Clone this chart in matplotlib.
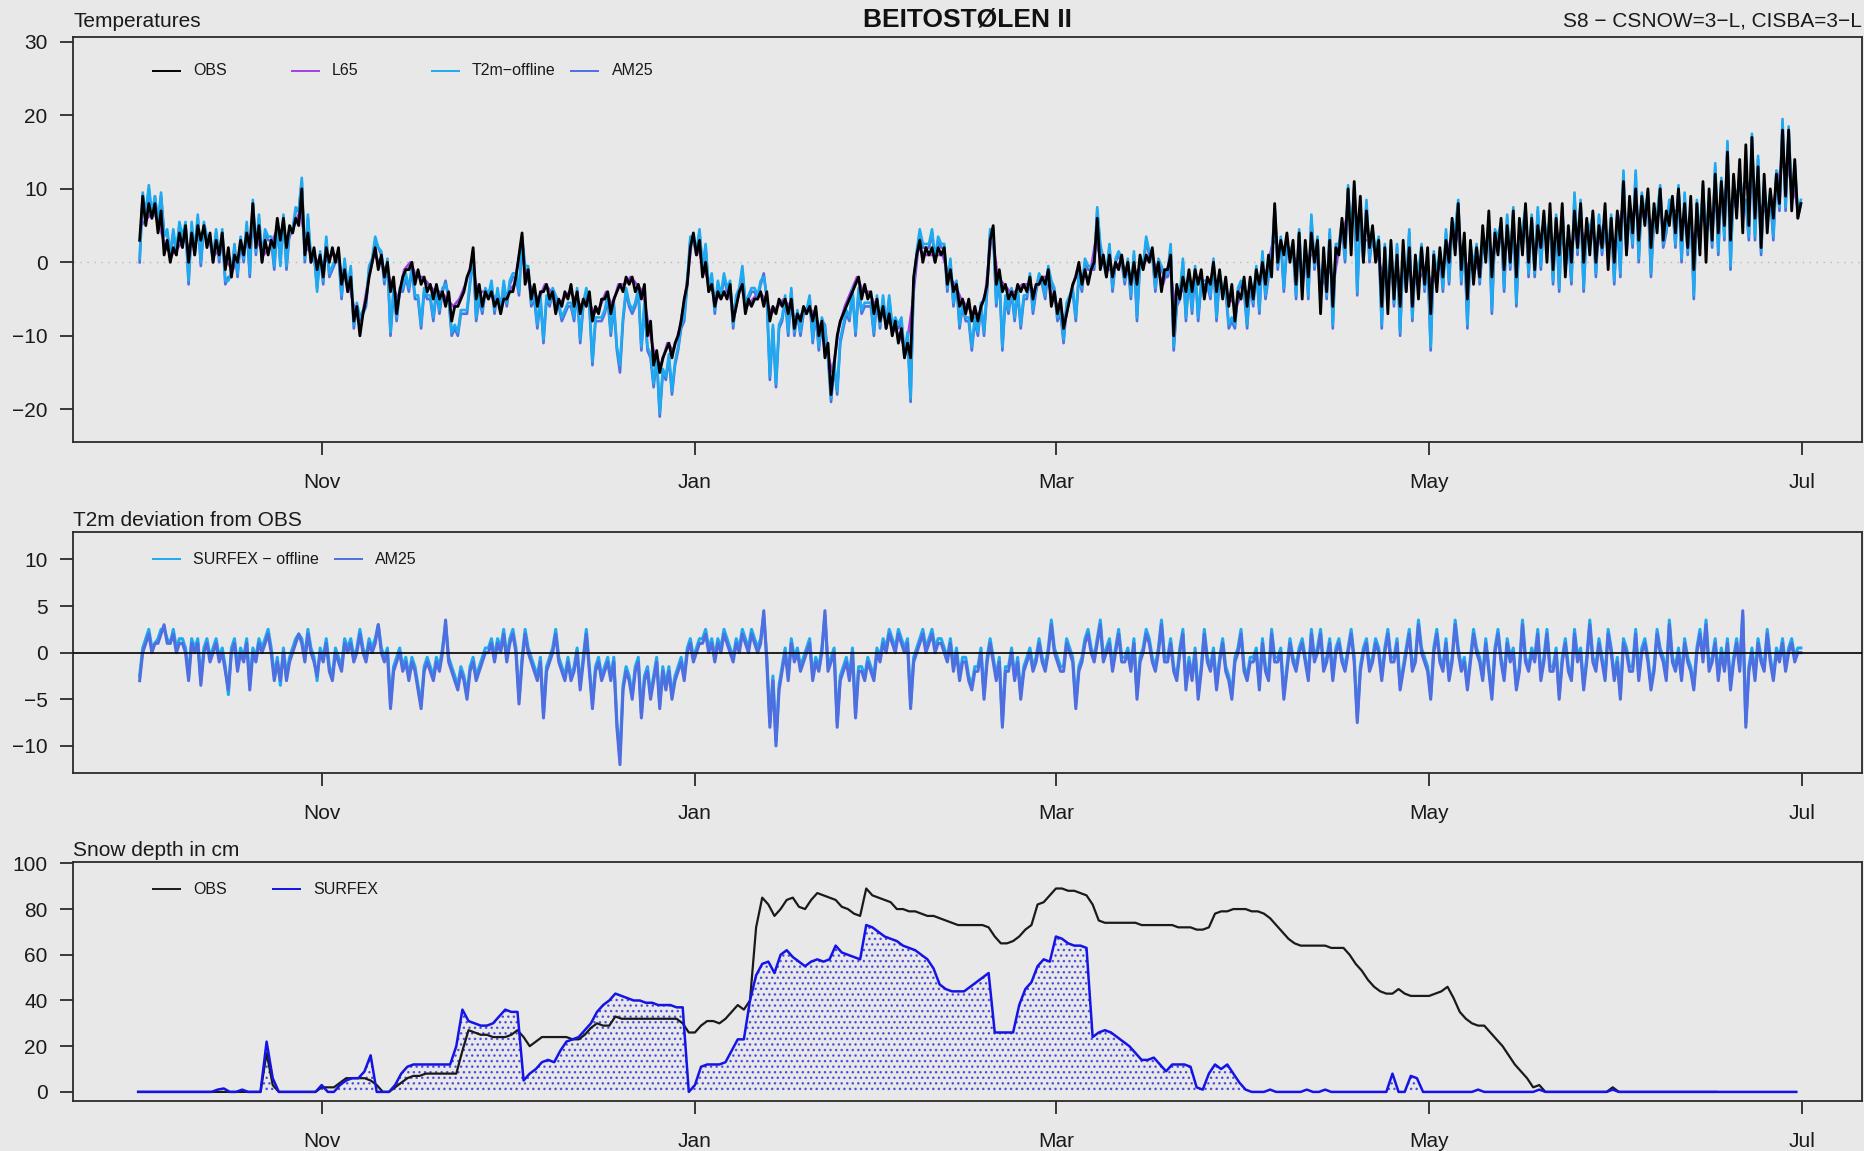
import numpy as np
import pandas as pd
import matplotlib
matplotlib.use('Agg')
import matplotlib.pyplot as plt

plt.rcParams['font.family'] = ['Liberation Sans', 'DejaVu Sans']
plt.rcParams['hatch.linewidth'] = 1.0
plt.rcParams['hatch.color'] = '#3434e0'

# Beitostølen II, season 2016/17. 2 m temperature, two values a day (night, day), from 2 Oct
obs_t2m = [
    3, 9, 5, 8, 6, 8, 4, 7, 1, 3, 0, 2, 1, 4,
    2, 5, 0, 4, 1, 5, 3, 5, 2, 4, 0, 3, 1, 4,
    -1, 2, -2, 1, 0, 3, 1, 4, 2, 8, 2, 5, 0, 3,
    1, 3, 2, 6, 3, 6, 2, 5, 4, 6, 5, 10, 1, 4,
    0, 2, -1, 1, -2, 2, 0, 2, 0, 2, -3, -1, -4, -2,
    -8, -6, -10, -7, -5, -2, 0, 2, -1, 1, -2, 0, -4, -2,
    -7, -4, -2, -1, -1, 0, -3, -1, -3, -2, -4, -3, -5, -3,
    -5, -4, -6, -4, -8, -6, -6, -5, -4, -2, -1, 2, -5, -3,
    -6, -4, -5, -4, -6, -5, -7, -5, -5, -4, -4, -2, 1, 4,
    -3, -1, -5, -3, -6, -4, -4, -3, -5, -4, -7, -5, -6, -4,
    -5, -3, -6, -4, -7, -5, -6, -4, -8, -6, -7, -5, -5, -4,
    -7, -5, -4, -3, -4, -2, -3, -2, -4, -3, -5, -3, -10, -8,
    -14, -12, -15, -13, -12, -11, -13, -11, -10, -8, -5, -3, 2, 4,
    1, 3, -2, 0, -4, -3, -6, -4, -5, -4, -5, -3, -8, -6,
    -4, -3, -7, -5, -6, -5, -5, -4, -6, -4, -8, -6, -7, -5,
    -6, -5, -7, -5, -9, -7, -8, -6, -7, -6, -8, -6, -10, -8,
    -13, -11, -18, -14, -10, -8, -7, -6, -5, -4, -3, -2, -5, -3,
    -5, -4, -7, -5, -8, -6, -9, -7, -10, -8, -11, -9, -13, -11,
    -13, -2, 1, 3, 0, 2, 1, 2, 0, 2, 1, 2, -3, -1,
    -4, -3, -6, -5, -7, -5, -8, -6, -8, -6, -5, -3, 3, 5,
    -3, -1, -4, -3, -5, -4, -5, -3, -4, -3, -4, -2, -5, -3,
    -3, -2, -3, -1, -6, -4, -7, -5, -9, -7, -5, -3, -2, 0,
    -3, -1, -3, -1, 0, 6, -1, 1, -2, 1, -2, 0, -1, 1,
    -2, 0, -3, 0, -3, 1, -1, 1, 0, 2, -2, 0, -4, -1,
    -1, 1, -10, -3, -5, -2, -4, -1, -4, -1, -3, -1, -5, -2,
    -3, 0, -4, -1, -5, -2, -6, -3, -8, -4, -5, -2, -6, -2,
    -5, -1, -3, 0, -3, 1, -2, 8, 0, 3, 1, 4, 0, 3,
    -3, 4, -5, 3, -2, 4, 0, 3, -7, 2, -4, 3, -6, 2,
    1, 6, 2, 10, 1, 11, 3, 9, 0, 7, 2, 5, 0, 3,
    -6, 2, -7, 3, -5, 1, -6, 3, -4, 2, -6, 1, -5, 2,
    -3, 2, -7, 1, -4, 2, -2, 3, 0, 6, 1, 8, -1, 4,
    -5, 3, -3, 2, -2, 5, 0, 7, -2, 4, 1, 6, -1, 5,
    0, 7, -2, 6, 1, 8, 0, 6, -1, 5, 2, 7, 0, 8,
    -1, 6, 1, 8, -2, 5, 0, 7, 2, 8, 0, 6, 1, 7,
    0, 5, 2, 8, -1, 6, 0, 7, 3, 11, 1, 9, 4, 10,
    3, 9, 5, 10, 2, 8, 4, 10, 3, 7, 5, 9, 4, 10,
    3, 8, 2, 9, -1, 8, 1, 11, 0, 10, 3, 12, 4, 11,
    5, 15, 3, 12, 6, 14, 4, 16, 5, 17, 6, 13, 2, 12,
    4, 10, 6, 12, 8, 18, 9, 18, 7, 14, 6, 8,
]

# model minus OBS, same 12-hourly times
dev_offline = [
    -2.5, 0.5, 1.5, 2.5, 0.5, 1, 1.5, 2.5, 2.5, 1.5, 1, 2.5, 0.5, 1.5,
    1.5, 0.5, -2.5, 1.5, 0.5, 1.5, -3, 0.5, 1.5, -0.5, 0.5, 1.5, -0.5, 0.5,
    -1.5, -4.5, 0.5, 1.5, -1.5, 0.5, -0.5, 1.5, -3.5, 0.5, -0.5, 1.5, 0.5, 1.5,
    2.5, 0.5, -2.5, -0.5, -3.5, 0.5, -2.5, -0.5, 0.5, 1.5, 2, 1.5, -0.5, 2.5,
    0.5, -0.5, -3, 0.5, -0.5, 1.5, -1.5, -2.5, 0.5, -0.5, -1.5, 1.5, 0.5, 1.5,
    -0.5, 0.5, 2.5, 0.5, -0.5, 1.5, 0.5, 1.5, 3, 0.5, -0.5, 0.5, -5.5, -1.5,
    -0.5, 0.5, -1.5, -0.5, -2.5, -0.5, -1.5, -3.5, -5.5, -1.5, -0.5, -1.5, -2.5, -0.5,
    -1.5, 0.5, 3, -0.5, -1.5, -2.5, -3.5, -1.5, -2.5, -4.5, -1.5, -0.5, -2.5, -1.5,
    -0.5, 0.5, 0.5, 1.5, -0.5, 1.5, 0.5, 2.5, -0.5, 1.5, 2.5, 0.5, -5, -0.5,
    2.5, 0.5, -0.5, -1.5, -2.5, -0.5, -6.5, -1.5, -0.5, 0.5, 2.5, -0.5, -1.5, -2.5,
    -0.5, -2.5, -1.5, 0.5, -3.5, -0.5, 2.5, -1.5, -5.5, -1.5, -0.5, -2.5, -1.5, -0.5,
    -2.5, -0.5, -7.5, -11, -3.5, -1.5, -2.5, -4.5, -1.5, -0.5, -6.5, -2.5, -1.5, -4.5,
    -2.5, -0.5, -5.5, -1.5, -3.5, -1.5, -4.5, -2.5, -1.5, -0.5, -2.5, 0.5, 1.5, -0.5,
    0.5, 1.5, 1.5, 2.5, 0.5, 1.5, -0.5, 1.5, 0.5, 2.5, 1.5, 0.5, -0.5, 1.5,
    0.5, 2.5, 1.5, 0.5, 2.5, 1.5, 0.5, 1.5, 4, -0.5, -7.5, -2.5, -9.5, -3.5,
    -1.5, 0.5, -2.5, 1.5, -0.5, 0.5, -1.5, -0.5, 0.5, 1.5, -2.5, -0.5, -1.5, 0.5,
    4, -1.5, -0.5, 0.5, -7.5, -2.5, -1.5, -0.5, -2.5, 0.5, -6.5, -1.5, -1.5, -2.5,
    -0.5, -1.5, -2.5, 0.5, -0.5, 1.5, 0.5, 2.5, 1.5, 0.5, 2.5, 1.5, 0.5, 1.5,
    -5.5, -0.5, 0.5, 1.5, 2.5, 0.5, 1.5, 2.5, 0.5, 1.5, 1.5, 0.5, -0.5, 1.5,
    -1.5, 0.5, -2.5, -0.5, -0.5, -2.5, -3.5, -1.5, -1.5, 0.5, -4.5, -0.5, 1.5, -0.5,
    -2.5, -0.5, -7.5, -1.5, -1.5, 0.5, -2.5, -0.5, -4.5, -1.5, -0.5, 0.5, -1.5, -0.5,
    1.5, -0.5, -1.5, 0.5, 3.5, 0.5, -0.5, -1.5, -1.5, 1.5, 0.5, -0.5, -5.5, -1.5,
    -0.5, 1.5, 2.5, 0.5, -0.5, 1.5, 3.5, -0.5, 0.5, 1.5, -1.5, 0.5, 2.5, -0.5,
    -0.5, 0.5, -1.5, 1.5, -4.5, -0.5, 0.5, 2.5, 1.5, -0.5, -1.5, 0.5, 3.5, -0.5,
    -0.5, 1.5, -1.5, -2.5, 0.5, 2.5, -3.5, -0.5, -2.5, 0.5, -4.5, -1.5, 2.5, -0.5,
    -1.5, 0.5, -3.5, -0.5, 1.5, -1.5, -2.5, -4.5, -0.5, 0.5, 2.5, -1.5, -2.5, -0.5,
    -0.5, 0.5, -3.5, 1.5, -1.5, -2.5, 2.5, -0.5, -0.5, 0.5, -4.5, -1.5, 1.5, -0.5,
    -1.5, 0.5, 1.5, -0.5, -2.5, 2.5, -0.5, 0.5, 2.5, -1.5, -0.5, 1.5, -2.5, 0.5,
    1.5, -0.5, -1.5, 0.5, 2.5, -0.5, -7, -1.5, 0.5, 1.5, -1.5, -0.5, 1.5, 0.5,
    -2.5, 0.5, 2.5, -0.5, -0.5, 1.5, -3.5, -1.5, 0.5, 2.5, -1.5, -0.5, 3.5, 0.5,
    -0.5, -1.5, -4.5, 0.5, 2.5, -0.5, -1.5, 1.5, -2.5, -0.5, 3.5, 0.5, -1.5, -0.5,
    -3.5, -0.5, 2.5, 0.5, -0.5, -2.5, 1.5, -1.5, -4.5, 0.5, 2.5, -0.5, -2.5, 1.5,
    -0.5, 0.5, -3.5, -1.5, 3.5, -0.5, -1.5, 0.5, -0.5, 2.5, -2.5, -0.5, 2.5, -1.5,
    -1.5, 0.5, -4.5, -0.5, 1.5, -1.5, -2.5, 2.5, -0.5, 0.5, -3.5, -0.5, 3.5, -0.5,
    -1.5, 1.5, -0.5, -2.5, 2.5, 0.5, -2.5, -0.5, -4.5, 1.5, 0.5, -1.5, -1.5, 2.5,
    -2.5, 0.5, 1.5, -0.5, -3.5, -1.5, 2.5, 0.5, -0.5, -2.5, 3.5, -0.5, -1.5, 0.5,
    -2.5, 1.5, -0.5, -1.5, -3.5, 0.5, 2.5, -0.5, 3.5, -1.5, -0.5, 1.5, -2.5, 0.5,
    -1.5, 1.5, -3.5, -0.5, 1.5, -1.5, 4, -7.5, -1.5, 0.5, -2.5, 1.5, -0.5, -1.5,
    2.5, -0.5, -2.5, 0.5, -0.5, 1.5, -1.5, 0.5, 1.5, -0.5, 0.5, 0.5,
]

dev_am25 = [
    -3, 0, 1, 2, 0, 1, 1, 2, 3, 1, 1, 2, 0, 1,
    1, 0, -3, 1, 0, 1, -3.5, 0, 1, -1, 0, 1, -1, 0,
    -2, -4, 0, 1, -2, 0, -1, 1, -4, 0, -1, 1, 0, 1,
    2, 0, -3, -1, -3, 0, -3, -1, 0, 1, 2, 1, -1, 2,
    0, -1, -2.5, 0, -1, 1, -2, -3, 0, -1, -2, 1, 0, 1,
    -1, 0, 2, 0, -1, 1, 0, 1, 3, 0, -1, 0, -6, -2,
    -1, 0, -2, -1, -3, -1, -2, -4, -6, -2, -1, -2, -3, -1,
    -2, 0, 3.5, -1, -2, -3, -4, -2, -3, -5, -2, -1, -3, -2,
    -1, 0, 0, 1, -1, 1, 0, 2, -1, 1, 2, 0, -5.5, -1,
    2, 0, -1, -2, -3, -1, -7, -2, -1, 0, 2, -1, -2, -3,
    -1, -3, -2, 0, -4, -1, 2, -2, -6, -2, -1, -3, -2, -1,
    -3, -1, -8, -12, -4, -2, -3, -5, -2, -1, -7, -3, -2, -5,
    -3, -1, -6, -2, -4, -2, -5, -3, -2, -1, -3, 0, 1, -1,
    0, 1, 1, 2, 0, 1, -1, 1, 0, 2, 1, 0, -1, 1,
    0, 2, 1, 0, 2, 1, 0, 1, 4.5, -1, -8, -3, -10, -4,
    -2, 0, -3, 1, -1, 0, -2, -1, 0, 1, -3, -1, -2, 0,
    4.5, -2, -1, 0, -8, -3, -2, -1, -3, 0, -7, -2, -2, -3,
    -1, -2, -3, 0, -1, 1, 0, 2, 1, 0, 2, 1, 0, 1,
    -6, -1, 0, 1, 2, 0, 1, 2, 0, 1, 1, 0, -1, 1,
    -2, 0, -3, -1, -1, -3, -4, -2, -2, 0, -5, -1, 1, -1,
    -3, -1, -8, -2, -2, 0, -3, -1, -5, -2, -1, 0, -2, -1,
    1, -1, -2, 0, 3, 0, -1, -2, -2, 1, 0, -1, -6, -2,
    -1, 1, 2, 0, -1, 1, 3, -1, 0, 1, -2, 0, 2, -1,
    -1, 0, -2, 1, -5, -1, 0, 2, 1, -1, -2, 0, 3, -1,
    -1, 1, -2, -3, 0, 2, -4, -1, -3, 0, -5, -2, 2, -1,
    -2, 0, -4, -1, 1, -2, -3, -5, -1, 0, 2, -2, -3, -1,
    -1, 0, -4, 1, -2, -3, 2, -1, -1, 0, -5, -2, 1, -1,
    -2, 0, 1, -1, -3, 2, -1, 0, 2, -2, -1, 1, -3, 0,
    1, -1, -2, 0, 2, -1, -7.5, -2, 0, 1, -2, -1, 1, 0,
    -3, 0, 2, -1, -1, 1, -4, -2, 0, 2, -2, -1, 3, 0,
    -1, -2, -5, 0, 2, -1, -2, 1, -3, -1, 3, 0, -2, -1,
    -4, -1, 2, 0, -1, -3, 1, -2, -5, 0, 2, -1, -3, 1,
    -1, 0, -4, -2, 3, -1, -2, 0, -1, 2, -3, -1, 2, -2,
    -2, 0, -5, -1, 1, -2, -3, 2, -1, 0, -4, -1, 3, -1,
    -2, 1, -1, -3, 2, 0, -3, -1, -5, 1, 0, -2, -2, 2,
    -3, 0, 1, -1, -4, -2, 2, 0, -1, -3, 3, -1, -2, 0,
    -3, 1, -1, -2, -4, 0, 2, -1, 3, -2, -1, 1, -3, 0,
    -2, 1, -4, -1, 1, -2, 4.5, -8, -2, 0, -3, 1, -1, -2,
    2, -1, -3, 0, -1, 1, -2, 0, 1, -1, 0, 0,
]

# L65 2 m temperature, daily
l65_t2m = [
    5, 6, 7, 5, 2, 1, 2,
    3, 2, 3, 4, 3, 1, 2,
    0, -1, 1, 2, 4, 3, 1,
    2, 4, 4, 3, 5, 7, 2,
    1, 0, 0, 1, 1, -2, -3,
    -7, -8, -3, 1, 0, -1, -3,
    -5, -1, 0, -2, -2, -3, -4,
    -4, -5, -6, -5, -3, 0, -4,
    -4, -4, -5, -5, -4, -3, 2,
    -2, -4, -5, -3, -4, -6, -5,
    -4, -5, -6, -5, -7, -6, -4,
    -6, -3, -3, -2, -3, -4, -9,
    -13, -14, -11, -12, -9, -4, 3,
    2, -1, -3, -5, -4, -4, -7,
    -3, -6, -5, -4, -5, -7, -6,
    -5, -6, -8, -7, -6, -7, -9,
    -12, -15, -9, -6, -4, -2, -4,
    -4, -6, -7, -8, -9, -10, -12,
    -6, 2, 1, 1, 1, 1, -2,
    -3, -5, -6, -7, -7, -4, 4,
    -2, -3, -4, -4, -3, -3, -4,
    -2, -2, -5, -6, -8, -4, -1,
    -2, -2, 3, 0, -1, -1, 0,
    -1, -2, -1, 0, 1, -1, -3,
    0, -6, -4, -3, -3, -2, -4,
    -2, -3, -4, -5, -6, -4, -4,
    -3, -2, -1, 3, 2, 2, 1,
    0, -1, 1, 1, -3, -1, -2,
    3, 6, 6, 6, 3, 3, 1,
    -2, -2, -2, -2, -1, -3, -2,
    -1, -3, -1, 0, 3, 4, 1,
    -1, -1, 1, 3, 1, 3, 2,
    3, 2, 4, 3, 2, 4, 4,
    2, 4, 1, 3, 5, 3, 4,
    2, 5, 2, 3, 7, 5, 7,
    6, 7, 5, 7, 5, 7, 7,
    5, 5, 3, 6, 5, 7, 7,
    10, 7, 10, 10, 11, 9, 7,
    7, 9, 13, 13, 10, 7,
]

# snow depth (cm), daily from 2 Oct
snow_obs = [
    0, 0, 0, 0, 0, 0, 0, 0, 0, 0,
    0, 0, 0, 0, 0, 0, 0, 0, 0, 0,
    0, 17, 3, 0, 0, 0, 0, 0, 0, 0,
    2, 2, 2, 4, 6, 6, 6, 6, 5, 3,
    0, 0, 2, 4, 6, 7, 7, 8, 8, 8,
    8, 8, 8, 18, 27, 26, 25, 25, 24, 24,
    24, 25, 27, 24, 20, 22, 24, 24, 24, 24,
    24, 23, 23, 25, 28, 30, 29, 29, 33, 32,
    32, 32, 32, 32, 32, 32, 32, 32, 32, 30,
    26, 26, 29, 31, 31, 30, 32, 35, 38, 36,
    40, 72, 85, 82, 77, 80, 84, 85, 81, 80,
    84, 87, 86, 85, 84, 81, 80, 78, 77, 89,
    86, 85, 84, 83, 80, 80, 79, 79, 78, 77,
    77, 76, 75, 74, 73, 73, 73, 73, 73, 72,
    68, 65, 65, 66, 68, 71, 73, 82, 83, 86,
    89, 89, 88, 88, 87, 86, 82, 75, 74, 74,
    74, 74, 74, 74, 73, 73, 73, 73, 73, 73,
    72, 72, 72, 71, 71, 72, 78, 79, 79, 80,
    80, 80, 79, 79, 78, 76, 73, 70, 67, 65,
    64, 64, 64, 64, 64, 63, 63, 63, 60, 56,
    53, 49, 46, 44, 43, 43, 45, 43, 42, 42,
    42, 42, 43, 44, 46, 41, 35, 32, 30, 29,
    29, 26, 23, 20, 16, 12, 9, 6, 2, 3,
    0, 0, 0, 0, 0, 0, 0, 0, 0, 0,
    0, 2, 0, 0, 0, 0, 0, 0, 0, 0,
    0, 0, 0, 0, 0, 0, 0, 0, 0,
]

snow_surfex = [
    0, 0, 0, 0, 0, 0, 0, 0, 0, 0,
    0, 0, 0, 1, 1.5, 0, 0, 1, 0, 0,
    0, 22, 6, 0, 0, 0, 0, 0, 0, 0,
    3, 0, 0, 3, 5, 6, 6, 9, 16, 0,
    0, 0, 3, 8, 11, 12, 12, 12, 12, 12,
    12, 12, 20, 36, 31, 30, 29, 29, 30, 33,
    36, 35, 35, 5, 8, 10, 13, 14, 13, 18,
    22, 23, 24, 27, 30, 35, 38, 40, 43, 42,
    41, 40, 40, 39, 39, 38, 38, 38, 37, 37,
    0, 3, 11, 12, 12, 12, 13, 18, 23, 23,
    40, 51, 56, 57, 52, 60, 62, 59, 57, 55,
    57, 58, 57, 58, 64, 61, 60, 59, 58, 73,
    72, 70, 68, 67, 66, 64, 63, 62, 60, 58,
    54, 47, 45, 44, 44, 44, 46, 48, 50, 52,
    26, 26, 26, 26, 38, 45, 48, 55, 58, 57,
    68, 67, 65, 64, 64, 63, 24, 26, 27, 26,
    24, 22, 20, 17, 14, 14, 15, 12, 9, 12,
    12, 12, 11, 2, 1, 8, 12, 10, 12, 8,
    4, 1, 0, 0, 0, 1, 0, 0, 0, 0,
    0, 1, 0, 0, 1, 0, 0, 0, 0, 0,
    0, 0, 0, 0, 0, 8, 0, 0, 7, 6,
    0, 0, 0, 0, 0, 0, 0, 0, 0, 1,
    0, 0, 0, 0, 0, 0, 0, 0, 0, 1,
    0, 0, 0, 0, 0, 0, 0, 0, 0, 0,
    0, 1, 0, 0, 0, 0, 0, 0, 0, 0,
    0, 0, 0, 0, 0, 0, 0, 0, 0, 0,
    0, 0, 0, 0, 0, 0, 0, 0, 0, 0,
    0, 0,
]

month_ticks = ['2016-11-01', '2017-01-01', '2017-03-01', '2017-05-01', '2017-07-01']
month_labels = ['Nov', 'Jan', 'Mar', 'May', 'Jul']

BG = '#e8e8e8'
C_OBS = '#000000'
C_L65 = '#a040e8'
C_OFF = '#1eaaf0'
C_AM25 = '#4f6fe0'
C_SNOW = '#1414e6'

start = pd.Timestamp('2016-10-02 06:00')
n = min(len(obs_t2m), len(dev_offline), len(dev_am25))
t12 = pd.date_range(start, periods=n, freq='12h')
obs = np.array(obs_t2m[:n], dtype=float)
d_off = np.array(dev_offline[:n], dtype=float)
d_am = np.array(dev_am25[:n], dtype=float)
t_off = obs + d_off
t_am = obs + d_am
t_l65 = pd.date_range(start + pd.Timedelta(hours=6), periods=len(l65_t2m), freq='D')
t_snow_obs = pd.date_range('2016-10-02', periods=len(snow_obs), freq='D')
t_snow_sfx = pd.date_range('2016-10-02', periods=len(snow_surfex), freq='D')

xmin = pd.Timestamp('2016-11-01') - pd.Timedelta(days=40.6)
xmax = pd.Timestamp('2017-07-01') + pd.Timedelta(days=9.7)

fig = plt.figure(figsize=(18.64, 11.51), dpi=100, facecolor=BG)
left, width = 0.0393, 0.9595
ax1 = fig.add_axes([left, 0.6163, width, 0.3518])
ax2 = fig.add_axes([left, 0.3284, width, 0.2096])
ax3 = fig.add_axes([left, 0.0434, width, 0.2079])


def style(ax, yticks, ylim):
    ax.set_facecolor(BG)
    ax.set_xlim(xmin, xmax)
    ax.set_ylim(*ylim)
    ax.set_yticks(yticks)
    ax.set_xticks(pd.to_datetime(month_ticks))
    ax.set_xticklabels(month_labels)
    for s in ax.spines.values():
        s.set_linewidth(1.3)
        s.set_color('#2a2a2a')
    ax.tick_params(axis='both', direction='out', length=9.5, width=1.3,
                   color='#2a2a2a', labelsize=15, labelcolor='#1a1a1a')
    ax.tick_params(axis='x', pad=13)
    ax.tick_params(axis='y', pad=9)


def legend_row(ax, entries, xs, y):
    for (label, color), x0 in zip(entries, xs):
        ax.plot([x0, x0 + 0.0162], [y, y], transform=ax.transAxes,
                color=color, lw=1.4, solid_capstyle='butt')
        ax.text(x0 + 0.023, y, label, transform=ax.transAxes, va='center',
                ha='left', fontsize=11.5, color='#1a1a1a')


# temperatures
style(ax1, [-20, -10, 0, 10, 20, 30], (-24.4, 30.7))
ax1.axhline(0, color='#b8b8b8', lw=1.0, ls=(0, (1, 4)), zorder=0.5)
ax1.plot(t_l65, l65_t2m, color=C_L65, lw=1.9)
ax1.plot(t12, t_am, color=C_AM25, lw=1.9)
ax1.plot(t12, t_off, color=C_OFF, lw=1.9)
ax1.plot(t12, obs, color=C_OBS, lw=2.0)
ax1.set_title('Temperatures', loc='left', fontsize=15, pad=4, color='#1a1a1a')
ax1.set_title('S8 \u2212 CSNOW=3\u2212L, CISBA=3\u2212L', loc='right', fontsize=15,
              pad=4, color='#1a1a1a')
ax1.set_title('BEITOST\u00d8LEN II', loc='center', fontsize=19, fontweight='bold',
              pad=7, color='#111111')
legend_row(ax1, [('OBS', C_OBS), ('L65', C_L65), ('T2m\u2212offline', C_OFF), ('AM25', C_AM25)],
           [0.0439, 0.1217, 0.1999, 0.278], 0.916)

# deviation from observations
style(ax2, [-10, -5, 0, 5, 10], (-12.9, 12.96))
ax2.plot(t12, d_off, color=C_OFF, lw=2.2)
ax2.plot(t12, d_am, color=C_AM25, lw=2.2)
ax2.axhline(0, color='black', lw=1.2, zorder=5)
ax2.set_title('T2m deviation from OBS', loc='left', fontsize=15, pad=4, color='#1a1a1a')
legend_row(ax2, [('SURFEX \u2212 offline', C_OFF), ('AM25', C_AM25)],
           [0.0439, 0.1457], 0.886)

# snow depth
style(ax3, [0, 20, 40, 60, 80, 100], (-4.0, 100.7))
ax3.fill_between(t_snow_sfx, 0, snow_surfex, facecolor='none', edgecolor='#3434e0',
                 hatch='...', linewidth=0, alpha=0.8)
ax3.plot(t_snow_obs, snow_obs, color='#1a1a1a', lw=1.6)
ax3.plot(t_snow_sfx, snow_surfex, color=C_SNOW, lw=1.8)
ax3.set_title('Snow depth in cm', loc='left', fontsize=15, pad=4, color='#1a1a1a')
legend_row(ax3, [('OBS', '#1a1a1a'), ('SURFEX', C_SNOW)], [0.0439, 0.1113], 0.886)

fig.savefig('out.png', dpi=100, facecolor=BG)
